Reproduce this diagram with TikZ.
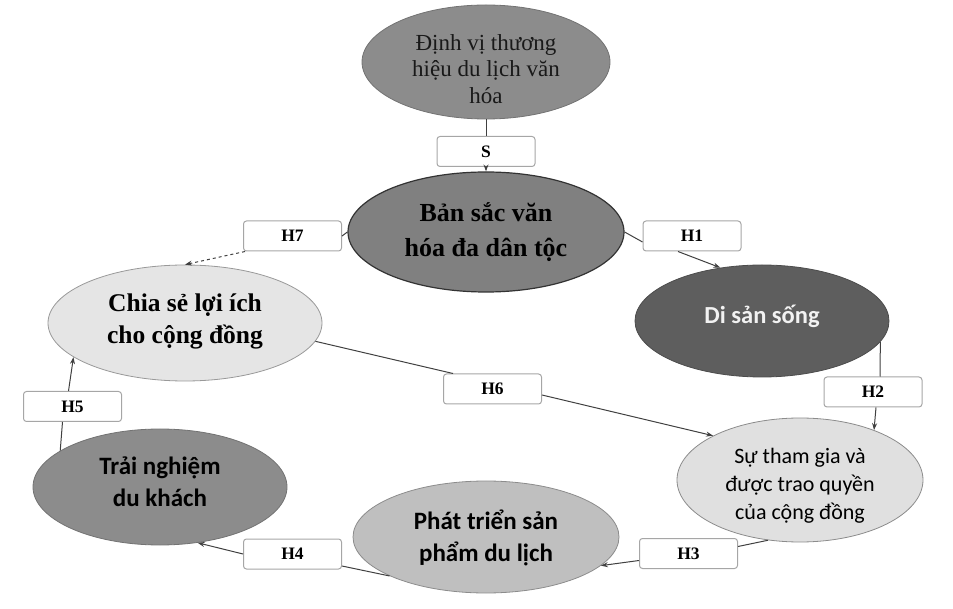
\documentclass[tikz,border=0pt]{standalone}
\usepackage{fontspec}
\setmainfont{Liberation Serif}
\newfontfamily\carl{Carlito}
\usetikzlibrary{shapes.geometric,arrows.meta}
\tikzset{
  ell/.style={ellipse, inner sep=0pt, line width=0.8pt},
  txt/.style={align=center, inner sep=0pt},
  hbox/.style={draw=black!35, line width=1pt, rounded corners=3pt, fill=white,
    minimum width=98pt, minimum height=30pt, inner sep=0pt,
    font=\bfseries\fontsize{17.5}{20}\selectfont},
  conn/.style={draw=black!75, line width=1pt},
  arr/.style={conn, -{Stealth[length=7pt,width=5pt]}},
}
\begin{document}
\begin{tikzpicture}[x=1pt,y=1pt]
\useasboundingbox (0,0) rectangle (953,608);
% ellipses
\node[ell, fill=black!45, draw=black!55, minimum width=248pt, minimum height=114pt] (top) at (486,546) {};
\node[txt, font=\fontsize{23}{26.5}\selectfont, text=black!90] (topT) at ([yshift=-7pt]top.center)
  {Định vị thương\\hiệu du lịch văn\\hóa};
\node[ell, fill=black!50, draw=black!80, line width=1.2pt, minimum width=276pt, minimum height=120pt] (center) at (486,376) {};
\node[txt, font=\bfseries\fontsize{26}{35}\selectfont] (centerT) at (center.center)
  {Bản sắc văn\\hóa đa dân tộc};
\node[ell, fill=black!63, draw=black!70, minimum width=254pt, minimum height=112pt] (disan) at (762,287) {};
\node[txt, font=\carl\bfseries\fontsize{24.5}{28}\selectfont, text=white!95!black] (disanT) at ([yshift=5pt]disan.center)
  {Di sản sống};
\node[ell, fill=black!12, draw=black!45, minimum width=246pt, minimum height=124pt] (sutham) at (800,128) {};
\node[txt, font=\carl\fontsize{22}{28}\selectfont] (suthamT) at ([yshift=-6pt]sutham.center)
  {Sự tham gia và\\được trao quyền\\của cộng đồng};
\node[ell, fill=black!25, draw=black!45, minimum width=266pt, minimum height=112pt] (phat) at (486,71) {};
\node[txt, font=\carl\bfseries\fontsize{25}{32}\selectfont] (phatT) at ([yshift=-1pt]phat.center)
  {Phát triển sản\\phẩm du lịch};
\node[ell, fill=black!45, draw=black!55, minimum width=254pt, minimum height=116pt] (trai) at (160,121) {};
\node[txt, font=\carl\bfseries\fontsize{25}{32}\selectfont] (traiT) at ([yshift=5pt]trai.center)
  {Trải nghiệm\\du khách};
\node[ell, fill=black!10, draw=black!40, minimum width=274pt, minimum height=116pt] (chia) at (185,285) {};
\node[txt, font=\bfseries\fontsize{25.5}{32}\selectfont] (chiaT) at ([yshift=2pt]chia.center)
  {Chia sẻ lợi ích\\cho cộng đồng};
% label boxes
\node[hbox] (S) at (486,456.5) {S};
\node[hbox] (H1) at (692,372) {H1};
\node[hbox] (H2) at (873,216) {H2};
\node[hbox] (H3) at (688.5,54.5) {H3};
\node[hbox] (H4) at (292.5,54) {H4};
\node[hbox] (H5) at (72.5,201.5) {H5};
\node[hbox] (H6) at (492.5,219) {H6};
\node[hbox] (H7) at (292.5,372) {H7};
% connectors
\draw[conn] (top.south) -- (S.north);
\draw[arr] (S.south) -- (center.north);
\draw[conn] (center.east) -- ([yshift=-6pt]H1.west);
\draw[arr] ([xshift=-14pt]H1.south) -- (disan.128);
\draw[conn] (disan.-10) -- ([xshift=7pt]H2.north);
\draw[arr] ([xshift=3pt]H2.south) -- (sutham.34);
\draw[conn] (sutham.-118) -- ([yshift=7pt]H3.east);
\draw[arr] ([yshift=-7pt]H3.west) -- (phat.-14);
\draw[conn] (phat.-158) -- ([yshift=-12pt]H4.east);
\draw[arr] (H4.west) -- (trai.-56);
\draw[conn] (trai.160) -- ([xshift=-10pt]H5.south);
\draw[arr] ([xshift=-4pt]H5.north) -- (chia.197);
\draw[conn] (chia.-8) -- ([xshift=10pt]H6.north west);
\draw[arr] ([yshift=-6pt]H6.east) -- (sutham.153);
\draw[conn] (center.west) -- (H7.east);
\draw[arr, dashed] ([xshift=2pt]H7.south west) -- (chia.north);
\end{tikzpicture}
\end{document}
